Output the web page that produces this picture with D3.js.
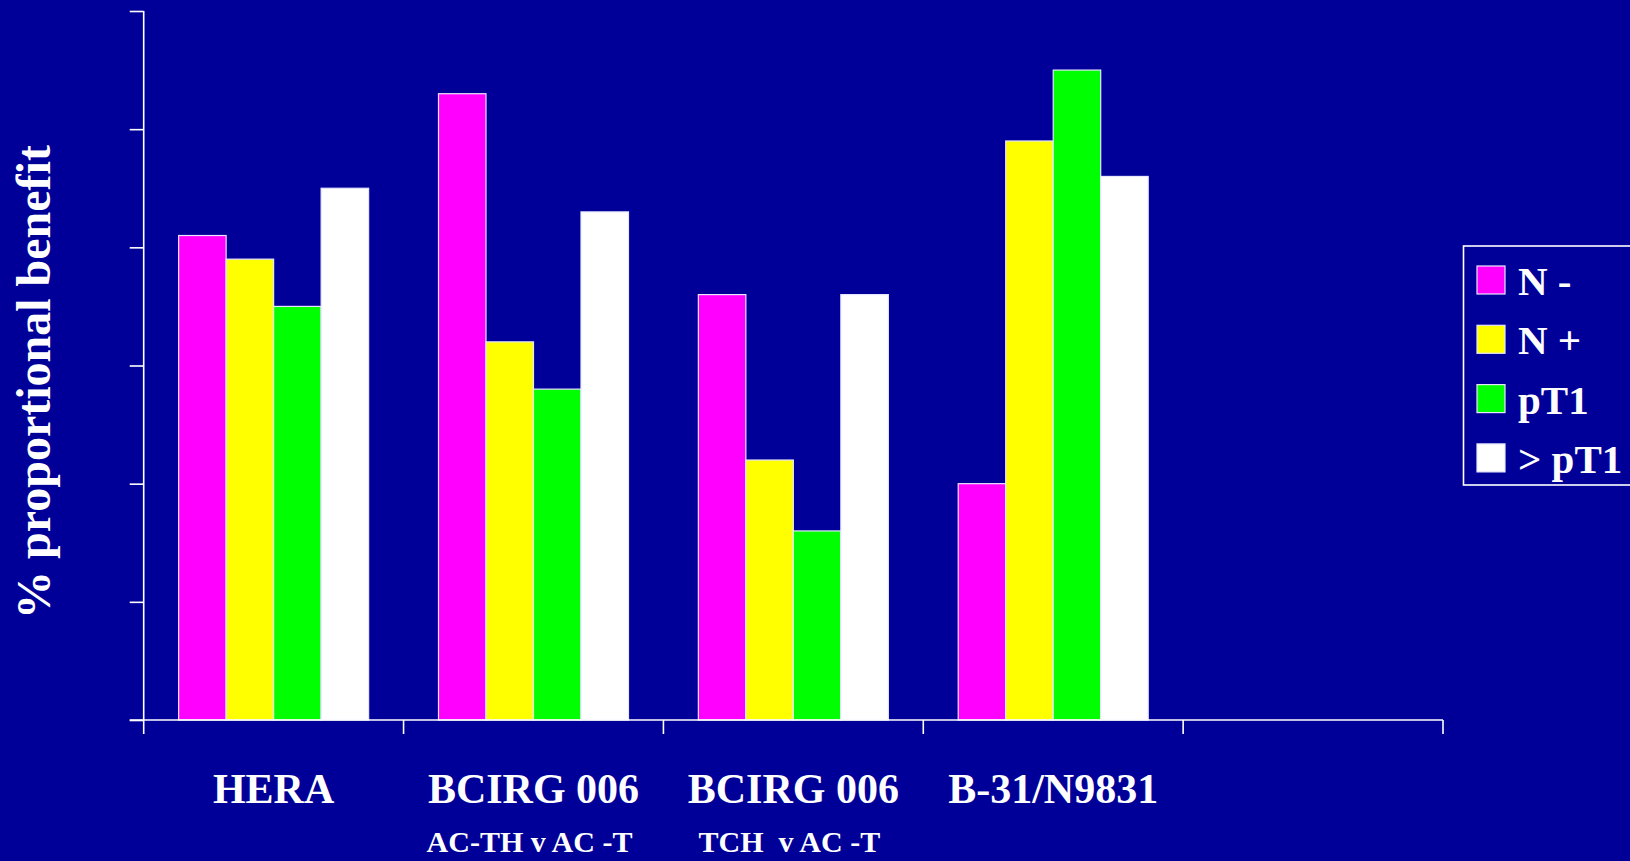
<!DOCTYPE html>
<html>
<head>
<meta charset="utf-8">
<script src="https://cdn.jsdelivr.net/npm/d3@7"></script>
<style>
  html, body { margin: 0; padding: 0; background: #000099; overflow: hidden; }
  svg { display: block; }
  text { font-family: "Liberation Serif", "Times New Roman", serif; font-weight: bold; fill: #ffffff; }
</style>
</head>
<body>
<svg id="chart" width="1630" height="861"></svg>
<script>
// Trial groups along the x axis (last slot left empty)
const trials = ["HERA", "BCIRG 006 a", "BCIRG 006 b", "B-31/N9831", "blank"];
const trialLabels = ["HERA", "BCIRG 006", "BCIRG 006", "B-31/N9831", ""];
const trialSubLabels = ["", "AC-TH v AC -T", "TCH  v AC -T", "", ""];

// Subgroups
const subgroups = ["N -", "N +", "pT1", "> pT1"];
const subgroupColors = ["#ff00ff", "#ffff00", "#00ff00", "#ffffff"];

// % proportional benefit per subgroup, one array per trial
const heraValues = [41, 39, 35, 45];
const bcirgActhValues = [53, 32, 28, 43];
const bcirgTchValues = [36, 22, 16, 36];
const b31Values = [20, 49, 55, 46];

const yTicks = [0, 10, 20, 30, 40, 50, 60];

const seriesByTrial = [heraValues, bcirgActhValues, bcirgTchValues, b31Values, []];

const svg = d3.select("#chart");

const plot = { left: 143.7, right: 1443, top: 11, bottom: 720 };

const x0 = d3.scaleBand().domain(trials).range([plot.left, plot.right]).padding(0);
const groupWidth = 190;
const groupPad = (x0.bandwidth() - groupWidth) / 2;
const x1 = d3.scaleBand().domain(subgroups).range([groupPad, groupPad + groupWidth]).padding(0);
const y = d3.scaleLinear().domain([0, 60]).range([plot.bottom, plot.top]);
const color = d3.scaleOrdinal().domain(subgroups).range(subgroupColors);

// Bars
const groups = svg.append("g").selectAll("g")
  .data(trials.map((t, i) => ({ trial: t, values: seriesByTrial[i] })))
  .join("g")
  .attr("transform", d => `translate(${x0(d.trial)},0)`);

groups.selectAll("rect")
  .data(d => d.values.map((v, j) => ({ key: subgroups[j], value: v })))
  .join("rect")
  .attr("x", d => x1(d.key))
  .attr("y", d => y(d.value))
  .attr("width", x1.bandwidth())
  .attr("height", d => y(0) - y(d.value))
  .attr("fill", d => color(d.key))
  .attr("stroke", "#e6e6ff")
  .attr("stroke-width", 1.2);

// Y axis: ticks only, no labels
const yAxis = d3.axisLeft(y).tickValues(yTicks).tickSize(14).tickFormat("");
const gy = svg.append("g").attr("transform", `translate(${plot.left},0)`).call(yAxis);
gy.select(".domain").remove();
gy.selectAll(".tick line").attr("stroke", "#ffffff").attr("stroke-width", 1.6);
svg.append("line")
  .attr("x1", plot.left).attr("x2", plot.left)
  .attr("y1", y(60)).attr("y2", plot.bottom)
  .attr("stroke", "#ffffff").attr("stroke-width", 1.6);

// X axis: baseline plus ticks at band boundaries
const boundaries = trials.map(t => x0(t)).concat([plot.right]);
svg.append("line")
  .attr("x1", plot.left - 14).attr("x2", plot.right)
  .attr("y1", plot.bottom).attr("y2", plot.bottom)
  .attr("stroke", "#ffffff").attr("stroke-width", 1.6);
svg.append("g").selectAll("line")
  .data(boundaries)
  .join("line")
  .attr("x1", d => d).attr("x2", d => d)
  .attr("y1", plot.bottom).attr("y2", plot.bottom + 14)
  .attr("stroke", "#ffffff").attr("stroke-width", 1.6);

// Category labels
svg.append("g").selectAll("text")
  .data(trials)
  .join("text")
  .attr("x", d => x0(d) + x0.bandwidth() / 2)
  .attr("y", 803)
  .attr("text-anchor", "middle")
  .style("font-size", "42px")
  .text((d, i) => trialLabels[i]);

svg.append("g").selectAll("text")
  .data(trials)
  .join("text")
  .attr("x", d => x0(d) + x0.bandwidth() / 2 - 4)
  .attr("y", 852)
  .attr("text-anchor", "middle")
  .style("font-size", "30px")
  .style("white-space", "pre")
  .attr("xml:space", "preserve")
  .text((d, i) => trialSubLabels[i]);

// Y axis title
svg.append("text")
  .attr("transform", "translate(50,382) rotate(-90)")
  .attr("text-anchor", "middle")
  .style("font-size", "48px")
  .text("% proportional benefit");

// Legend
const legend = svg.append("g");
legend.append("rect")
  .attr("x", 1463.5).attr("y", 246)
  .attr("width", 170).attr("height", 239)
  .attr("fill", "none")
  .attr("stroke", "#ffffff").attr("stroke-width", 1.6);

const rows = legend.selectAll("g.row")
  .data(subgroups)
  .join("g")
  .attr("class", "row")
  .attr("transform", (d, i) => `translate(1477,${266 + i * 59.3})`);
rows.append("rect")
  .attr("width", 28).attr("height", 28)
  .attr("fill", d => color(d))
  .attr("stroke", "#e6e6ff").attr("stroke-width", 1.2);
rows.append("text")
  .attr("x", 41).attr("y", 29)
  .style("font-size", "41px")
  .text(d => d);
</script>
</body>
</html>
